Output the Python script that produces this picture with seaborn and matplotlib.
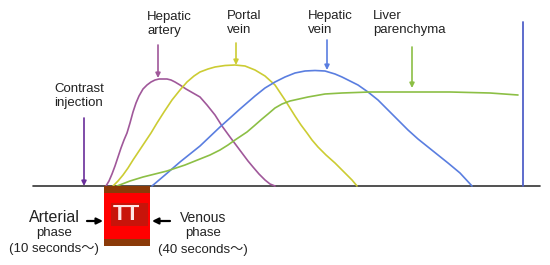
import numpy as np
import pandas as pd
import matplotlib
matplotlib.use('Agg')
import matplotlib.pyplot as plt
import seaborn as sns
from matplotlib.patches import Rectangle

# enhancement curves (x = time, y = enhancement above baseline)
artery_x = [106, 109, 112, 115, 118, 121, 124, 127, 130, 133, 136, 139, 143, 147, 151, 155, 159, 163, 167,
            171, 175, 180, 186, 193, 200, 207, 215, 222, 230, 236, 242, 248, 253, 259, 265, 270, 275]
artery_y = [0, 5, 12, 20, 29, 38, 46, 53, 63, 74, 83, 90, 97, 101, 104, 106, 107, 107, 107,
            106, 104, 101, 97, 93, 89, 81, 71, 60, 49, 41, 33, 25, 19, 12, 6, 2, 0]

portal_x = [113, 118, 123, 128, 133, 139, 145, 151, 157, 164, 172, 180, 187, 194, 200, 208, 215, 225,
            235, 245, 255, 265, 275, 285, 295, 301, 307, 312, 318, 326, 335, 341, 346, 352, 357]
portal_y = [0, 5, 11, 18, 26, 35, 44, 53, 63, 74, 86, 96, 104, 110, 114, 117, 119, 120.5,
            121, 120, 116, 110, 101, 86, 70, 61, 53, 46, 39, 31, 23, 17, 12, 6, 0]

hvein_x = [152, 165, 180, 200, 220, 240, 255, 265, 275, 285, 295, 305, 315, 325, 335, 342, 350, 358,
           368, 378, 388, 398, 408, 418, 428, 438, 448, 460, 472]
hvein_y = [0, 11, 24, 40, 59, 77, 90, 98, 104, 109, 113, 115, 115.5, 115, 112, 109, 105, 101,
           94, 86, 76, 66, 56, 47, 39, 31, 23, 13, 0]

liver_x = [117, 130, 143, 155, 167, 185, 200, 210, 220, 228, 235, 241, 247, 254, 262, 268, 275, 282,
           290, 299, 308, 325, 342, 370, 408, 450, 490, 518]
liver_y = [0, 5, 9, 12, 15, 21, 27, 31, 36, 41, 46, 50, 54, 60, 67, 72, 78, 82,
           85, 87, 89, 92, 93, 94, 94, 94, 93, 91]

names = ['Hepatic artery', 'Portal vein', 'Hepatic vein', 'Liver parenchyma']
colors = ['#a0589a', '#cccc33', '#5a7ee0', '#8cbf45']

frames = []
for nm, xs, ys in zip(names, [artery_x, portal_x, hvein_x, liver_x],
                      [artery_y, portal_y, hvein_y, liver_y]):
    frames.append(pd.DataFrame({'t': xs, 'v': ys, 'curve': nm}))
df = pd.concat(frames, ignore_index=True)

sns.set_style('white')
plt.rcParams['font.family'] = ['Liberation Sans', 'Noto Sans CJK JP', 'DejaVu Sans']

fig = plt.figure(figsize=(5.5, 2.65), dpi=100)
ax = fig.add_axes([0, 0, 1, 1])

sns.lineplot(data=df, x='t', y='v', hue='curve', palette=dict(zip(names, colors)),
             linewidth=1.2, legend=False, ax=ax, sort=False)

ax.set_xlim(0, 550)
ax.set_ylim(-79, 186)
ax.axis('off')

# baseline and end marker
ax.plot([33, 540], [0, 0], color='#333333', lw=1.2, zorder=1)
ax.plot([523, 523], [0, 164], color='#5060c8', lw=1.3)

txt = '#222222'
fs = 9.5

def label(x, y, s, color, ax_x, y0, y1):
    ax.text(x, y, s, ha='left', va='center', fontsize=fs, color=txt, linespacing=1.2)
    ax.annotate('', xy=(ax_x, y1), xytext=(ax_x, y0),
                arrowprops=dict(arrowstyle='-|>', color=color, lw=1.2, mutation_scale=7,
                                shrinkA=0, shrinkB=0))

label(147, 162, 'Hepatic\nartery', colors[0], 158, 141, 108)
label(227, 163, 'Portal\nvein', colors[1], 236, 143, 121)
label(308, 163, 'Hepatic\nvein', colors[2], 327, 146, 116)
label(373, 163, 'Liver\nparenchyma', colors[3], 412, 139, 98)
label(54, 90, 'Contrast\ninjection', '#6a2e9a', 84, 68, 0)

# timing box
ax.add_patch(Rectangle((104, -60), 46, 60, facecolor='#ff0000', edgecolor='none', zorder=3))
ax.add_patch(Rectangle((104, -7), 46, 7, facecolor='#8b3a08', edgecolor='none', zorder=4))
ax.add_patch(Rectangle((104, -60), 46, 7, facecolor='#8b3a08', edgecolor='none', zorder=4))
ax.add_patch(Rectangle((111, -40), 37, 23, facecolor='#c8140a', edgecolor='none', zorder=4))
ax.text(126, -29, 'TT', ha='center', va='center', fontsize=16, fontweight='bold',
        color='#ffe6e6', zorder=5)

# phase labels
ax.text(54, -31, 'Arterial', ha='center', va='center', fontsize=11.5, color=txt)
ax.text(54, -47, 'phase', ha='center', va='center', fontsize=fs, color=txt)
ax.text(54, -63, '(10 seconds～)', ha='center', va='center', fontsize=fs, color=txt)
ax.text(203, -32, 'Venous', ha='center', va='center', fontsize=fs + 0.5, color=txt)
ax.text(203, -47, 'phase', ha='center', va='center', fontsize=fs, color=txt)
ax.text(203, -64, '(40 seconds～)', ha='center', va='center', fontsize=fs, color=txt)

ax.annotate('', xy=(103, -35), xytext=(87, -35),
            arrowprops=dict(arrowstyle='-|>', color='black', lw=1.6, mutation_scale=9,
                            shrinkA=0, shrinkB=0))
ax.annotate('', xy=(152, -35), xytext=(170, -35),
            arrowprops=dict(arrowstyle='-|>', color='black', lw=1.6, mutation_scale=9,
                            shrinkA=0, shrinkB=0))

fig.savefig('out.png', dpi=100)
